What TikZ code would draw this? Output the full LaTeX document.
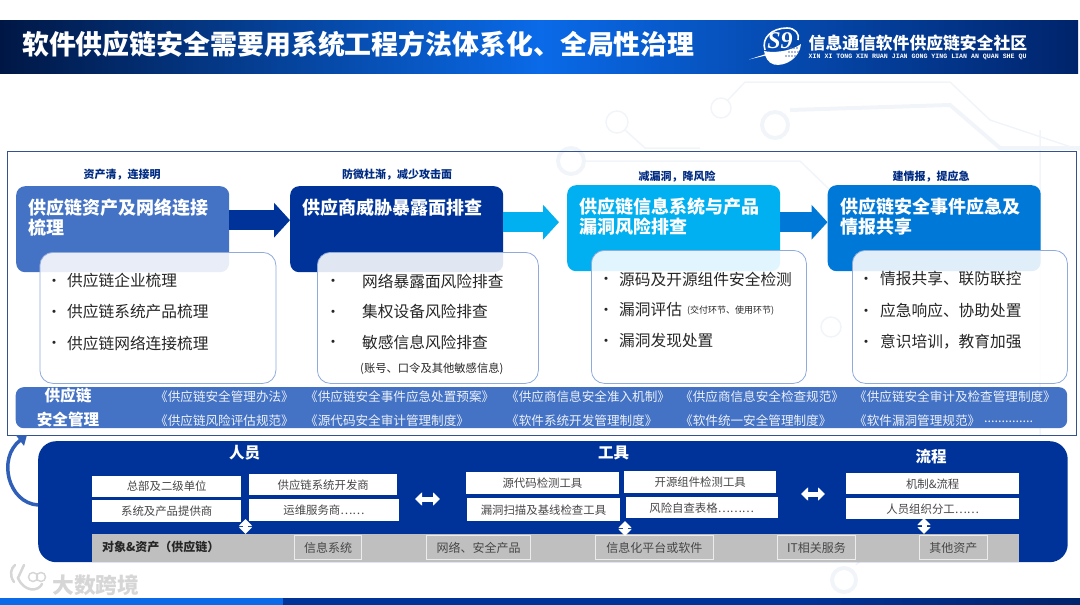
\documentclass[tikz,border=0pt]{standalone}
\usepackage{fontspec}
\setmainfont{Noto Sans CJK SC}
\newfontfamily\logomono{Liberation Mono}
\newfontfamily\logoserif{Liberation Serif}
\usetikzlibrary{arrows.meta}

\definecolor{navy}{HTML}{003399}
\definecolor{midblue}{HTML}{4472C4}
\definecolor{skyblue}{HTML}{00B0F0}
\definecolor{oceanblue}{HTML}{0078D7}
\definecolor{brightblue}{HTML}{0A6AE8}
\definecolor{inkgrey}{HTML}{262626}
\definecolor{tracegrey}{HTML}{F1F4F8}

\newcommand{\fsz}[1]{\fontsize{#1}{#1}\selectfont}

\tikzset{
  headbox/.style={anchor=north west, rounded corners=9pt, inner sep=0pt, minimum width=213pt, minimum height=86pt},
  headtext/.style={anchor=north west, inner sep=0pt, align=left, text=white, font=\fsz{18}\bfseries},
  slogan/.style={inner sep=0pt, text=navy!85!black, font=\fsz{11}\bfseries},
  listbox/.style={anchor=north west, rounded corners=13pt, draw=midblue!60, line width=0.8pt, fill=white, fill opacity=0.88, inner sep=0pt},
  listbullet/.style={inner sep=0pt, yshift=-2pt, text=inkgrey, font=\fsz{15}},
  listtext/.style={anchor=west, inner sep=0pt, text=inkgrey, font=\fsz{15.7}},
  flowarrow/.style={line width=20pt, -{Triangle[length=16pt,width=34pt]}},
  doctext/.style={anchor=west, inner sep=0pt, text=white!90!midblue, font=\fsz{12.6}},
  bandtext/.style={inner sep=0pt, text=white, font=\fsz{15.6}\bfseries},
  whitebox/.style={anchor=north west, fill=white, inner sep=0pt, text=inkgrey!85, font=\fsz{11.4}},
  groupname/.style={inner sep=0pt, text=white, font=\fsz{15.5}\bfseries},
  assetbox/.style={anchor=north west, draw=white!85!gray, line width=1pt, inner sep=0pt, text=inkgrey!85, font=\fsz{12}},
  dblarrow/.style={white, line width=5pt, {Triangle[length=7pt,width=13pt]}-{Triangle[length=7pt,width=13pt]}},
  trace/.style={draw=tracegrey, line width=1.5pt},
}

\begin{document}
\begin{tikzpicture}[x=1pt,y=-1pt]
\useasboundingbox (0,0) rectangle (1080,605);

% faint circuit traces behind everything
\draw[trace] (617,122) circle (11) (721,108) circle (10) (831,327) circle (10);
\draw[trace, line width=4pt] (775,125) circle (13) (844,580) circle (12) (571,161) circle (13);
\draw[trace] (625,130) -- (645,148) -- (700,148) (728,100) -- (745,82) -- (950,82) -- (990,120) -- (1080,150);
\draw[trace, line width=4pt] (790,110) -- (950,105) -- (1000,148) -- (1080,148);
\draw[trace] (584,161) -- (800,161) -- (830,190) (856,565) -- (900,520) (1040,130) -- (1040,435);

% title band
\shade[left color=navy!45!black, right color=brightblue] (0,20) rectangle (540,73);
\shade[left color=brightblue, right color=navy!70!black] (540,20) rectangle (1078,73);
\node[anchor=west, inner sep=0pt, text=white, font=\fsz{26.9}\bfseries] (title) at (22,44.5) {软件供应链安全需要用系统工程方法体系化、全局性治理};

% logo
\fill[white] (749,59.5) -- (772,52) -- (772,54) -- cycle;
\fill[white] (764,51) .. controls (772,53) and (790,52) .. (801,44) .. controls (800,58) and (785,67) .. (774,64.5) .. controls (768,63) and (765,57) .. (764,51) -- cycle;
\draw[white, line width=1.6pt] (765,50) .. controls (761,38) and (772,28) .. (787,28) .. controls (795,28) and (800,34) .. (798,40);
\node[inner sep=0pt, text=white, font=\logoserif\fsz{24}\bfseries\itshape] (logosign) at (780,41) {S9};
\foreach \dotx in {788,791,794,797} {
  \fill[navy!70] (\dotx,48) circle (0.8) (\dotx+1,52) circle (0.8) (\dotx-2,56) circle (0.8);
}
\node[anchor=west, inner sep=0pt, text=white, font=\fsz{16.8}\bfseries] (logotext) at (808.5,43) {信息通信软件供应链安全社区};
\node[anchor=west, inner sep=0pt, text=white, font=\logomono\fsz{6.6}\bfseries] (logopinyin) at (808.5,57) {XIN XI TONG XIN RUAN JIAN GONG YING LIAN AN QUAN SHE QU};

% frame round the four steps
\node[anchor=north west, draw=navy!60!gray, line width=0.7pt, inner sep=0pt, minimum width=1069pt, minimum height=284pt] (frame) at (7,151) {};

\node[slogan] (sloganA) at (122,174.5) {资产清，连接明};
\node[slogan] (sloganB) at (397,175) {防微杜渐，减少攻击面};
\node[slogan] (sloganC) at (677,177) {减漏洞，降风险};
\node[slogan] (sloganD) at (931,176.5) {建情报，提应急};

\node[headbox, fill=midblue] (headA) at (16,186) {};
\node[headbox, fill=navy] (headB) at (290,186) {};
\node[headbox, fill=skyblue] (headC) at (567,185) {};
\node[headbox, fill=oceanblue] (headD) at (827.5,185) {};

\draw[flowarrow, navy] ([yshift=9pt]headA.east) -- ([yshift=9pt]headB.west);
\draw[flowarrow, skyblue] ([yshift=7pt]headB.east) -- ([xshift=-8pt,yshift=6pt]headC.west);
\draw[flowarrow, oceanblue] ([yshift=6pt]headC.east) -- ([yshift=6pt]headD.west);

\node[headtext] (headAtext) at (28,199) {供应链资产及网络连接\\[2pt]梳理};
\node[headtext] (headBtext) at (302,199) {供应商威胁暴露面排查};
\node[headtext] (headCtext) at (579,198) {供应链信息系统与产品\\[2pt]漏洞风险排查};
\node[headtext] (headDtext) at (840,198) {供应链安全事件应急及\\[2pt]情报共享};

\node[listbox, minimum width=236pt, minimum height=131pt] (listA) at (39.5,252) {};
\node[listbox, minimum width=221pt, minimum height=131pt] (listB) at (317,252) {};
\node[listbox, minimum width=215pt, minimum height=133pt] (listC) at (591,250) {};
\node[listbox, minimum width=215pt, minimum height=133pt] (listD) at (852,250) {};

\node[listbullet] (dotA1) at (54,281) {•};
\node[listtext] (itemA1) at (67,281) {供应链企业梳理};
\node[listbullet] (dotA2) at (54,312) {•};
\node[listtext] (itemA2) at (67,312) {供应链系统产品梳理};
\node[listbullet] (dotA3) at (54,343) {•};
\node[listtext] (itemA3) at (67,343) {供应链网络连接梳理};

\node[listbullet] (dotB1) at (333,281) {•};
\node[listtext] (itemB1) at (362,281) {网络暴露面风险排查};
\node[listbullet] (dotB2) at (333,312) {•};
\node[listtext] (itemB2) at (362,312) {集权设备风险排查};
\node[listbullet] (dotB3) at (333,342) {•};
\node[listtext] (itemB3) at (362,342) {敏感信息风险排查};
\node[listtext, font=\fsz{11.3}] (itemB4) at (360,369) {(账号、口令及其他敏感信息)};

\node[listbullet] (dotC1) at (606,279) {•};
\node[listtext] (itemC1) at (619,279) {源码及开源组件安全检测};
\node[listbullet] (dotC2) at (606,310) {•};
\node[listtext] (itemC2) at (619,310) {漏洞评估};
\node[listtext, font=\fsz{9}] (itemC2note) at (687,311) {(交付环节、使用环节)};
\node[listbullet] (dotC3) at (606,341) {•};
\node[listtext] (itemC3) at (619,341) {漏洞发现处置};

\node[listbullet] (dotD1) at (866,279) {•};
\node[listtext] (itemD1) at (880,279) {情报共享、联防联控};
\node[listbullet] (dotD2) at (866,311) {•};
\node[listtext] (itemD2) at (880,311) {应急响应、协助处置};
\node[listbullet] (dotD3) at (866,342) {•};
\node[listtext] (itemD3) at (880,342) {意识培训，教育加强};

% management band
\node[anchor=north west, fill=midblue, rounded corners=8pt, inner sep=0pt, minimum width=1051.5pt, minimum height=41pt] (band) at (15.5,387) {};
\node[bandtext] (bandname1) at (68,396) {供应链};
\node[bandtext] (bandname2) at (68,420) {安全管理};

\node[doctext] (doc11) at (155,397) {《供应链安全管理办法》};
\node[doctext] (doc12) at (305,397) {《供应链安全事件应急处置预案》};
\node[doctext] (doc13) at (506,397) {《供应商信息安全准入机制》};
\node[doctext] (doc14) at (680,397) {《供应商信息安全检查规范》};
\node[doctext] (doc15) at (854,397) {《供应链安全审计及检查管理制度》};
\node[doctext] (doc21) at (155,421) {《供应链风险评估规范》};
\node[doctext] (doc22) at (305,421) {《源代码安全审计管理制度》};
\node[doctext] (doc23) at (506,421) {《软件系统开发管理制度》};
\node[doctext] (doc24) at (680,421) {《软件统一安全管理制度》};
\node[doctext] (doc25) at (854,421) {《软件漏洞管理规范》};
\node[doctext, font=\fsz{12.6}] (doc25dots) at (984,422) {..............};

% lower panel
\node[anchor=north west, fill=navy, rounded corners=18pt, inner sep=0pt, minimum width=1029.5pt, minimum height=121pt] (panel) at (38,441) {};

\coordinate (loopstart) at (38,505);
\coordinate (looptip) at (27,435);
\draw[midblue!70!navy, line width=3.5pt, -{Triangle[length=9pt,width=13pt]}] (loopstart) .. controls (8,503) and (-3,458) .. (looptip);

\node[groupname] (people) at (244.5,453) {人员};
\node[groupname] (tools) at (613.5,453) {工具};
\node[groupname] (process) at (931,457) {流程};

\node[whitebox, minimum width=149pt, minimum height=21pt] (hq) at (92,475.5) {总部及二级单位};
\node[whitebox, minimum width=149pt, minimum height=22pt] (vendor) at (92,500) {系统及产品提供商};
\node[whitebox, minimum width=148pt, minimum height=21pt] (developer) at (249,474) {供应链系统开发商};
\node[whitebox, minimum width=149.5pt, minimum height=22pt] (operator) at (249,499) {运维服务商……};
\node[whitebox, minimum width=152.5pt, minimum height=22pt] (srccheck) at (466,472) {源代码检测工具};
\node[whitebox, minimum width=152.5pt, minimum height=23pt] (scantool) at (467,498) {漏洞扫描及基线检查工具};
\node[whitebox, minimum width=152pt, minimum height=22pt] (osscheck) at (624,471) {开源组件检测工具};
\node[whitebox, minimum width=152pt, minimum height=21pt] (selfcheck) at (625.5,497) {风险自查表格………};
\node[whitebox, minimum width=173pt, minimum height=21pt] (mechanism) at (846,473) {机制\&流程};
\node[whitebox, minimum width=173pt, minimum height=21pt] (staffing) at (846,498) {人员组织分工……};

\node[anchor=north west, fill=black!25, inner sep=0pt, minimum width=927pt, minimum height=28pt] (assetbar) at (92,534) {};
\node[anchor=west, inner sep=0pt, text=inkgrey, font=\fsz{12}\bfseries] (assetname) at (102,547) {对象\&资产（供应链）};
\node[assetbox, minimum width=67pt, minimum height=24pt] (asset1) at (294,535) {信息系统};
\node[assetbox, minimum width=104pt, minimum height=24pt] (asset2) at (426,535) {网络、安全产品};
\node[assetbox, minimum width=117.5pt, minimum height=24pt] (asset3) at (595,535) {信息化平台或软件};
\node[assetbox, minimum width=78pt, minimum height=24pt] (asset4) at (777,535) {IT相关服务};
\node[assetbox, minimum width=67.5pt, minimum height=24pt] (asset5) at (919,535) {其他资产};

\coordinate (swapA1) at (415,499);
\coordinate (swapA2) at (440,499);
\coordinate (swapB1) at (801,494);
\coordinate (swapB2) at (825,494);
\draw[dblarrow] (swapA1) -- (swapA2);
\draw[dblarrow] (swapB1) -- (swapB2);
\coordinate (riseA1) at (245.5,519);
\coordinate (riseA2) at (245.5,534);
\coordinate (riseB1) at (625,521);
\coordinate (riseB2) at (625,536);
\coordinate (riseC1) at (924,518);
\coordinate (riseC2) at (924,534);
\draw[dblarrow] (riseA1) -- (riseA2);
\draw[dblarrow] (riseB1) -- (riseB2);
\draw[dblarrow] (riseC1) -- (riseC2);

% watermark
\draw[black!16, line width=2.5pt, line cap=round] (14,582) .. controls (9,575) and (11,568) .. (15,565) (24,565) -- (18,578) .. controls (24,592) and (38,592) .. (42,584);
\draw[black!16, line width=1.5pt] (33,577) circle (4.5) (41,577) circle (4.5);
\node[anchor=west, inner sep=0pt, text=black!16, font=\fsz{21.8}\bfseries] (watermark) at (52,585) {大数跨境};

% foot strip
\fill[brightblue] (0,598) rectangle (283,605);
\fill[navy] (283,598) rectangle (801,605);
\shade[left color=navy, right color=navy!70!black] (801,598) rectangle (1080,605);
\end{tikzpicture}
\end{document}
